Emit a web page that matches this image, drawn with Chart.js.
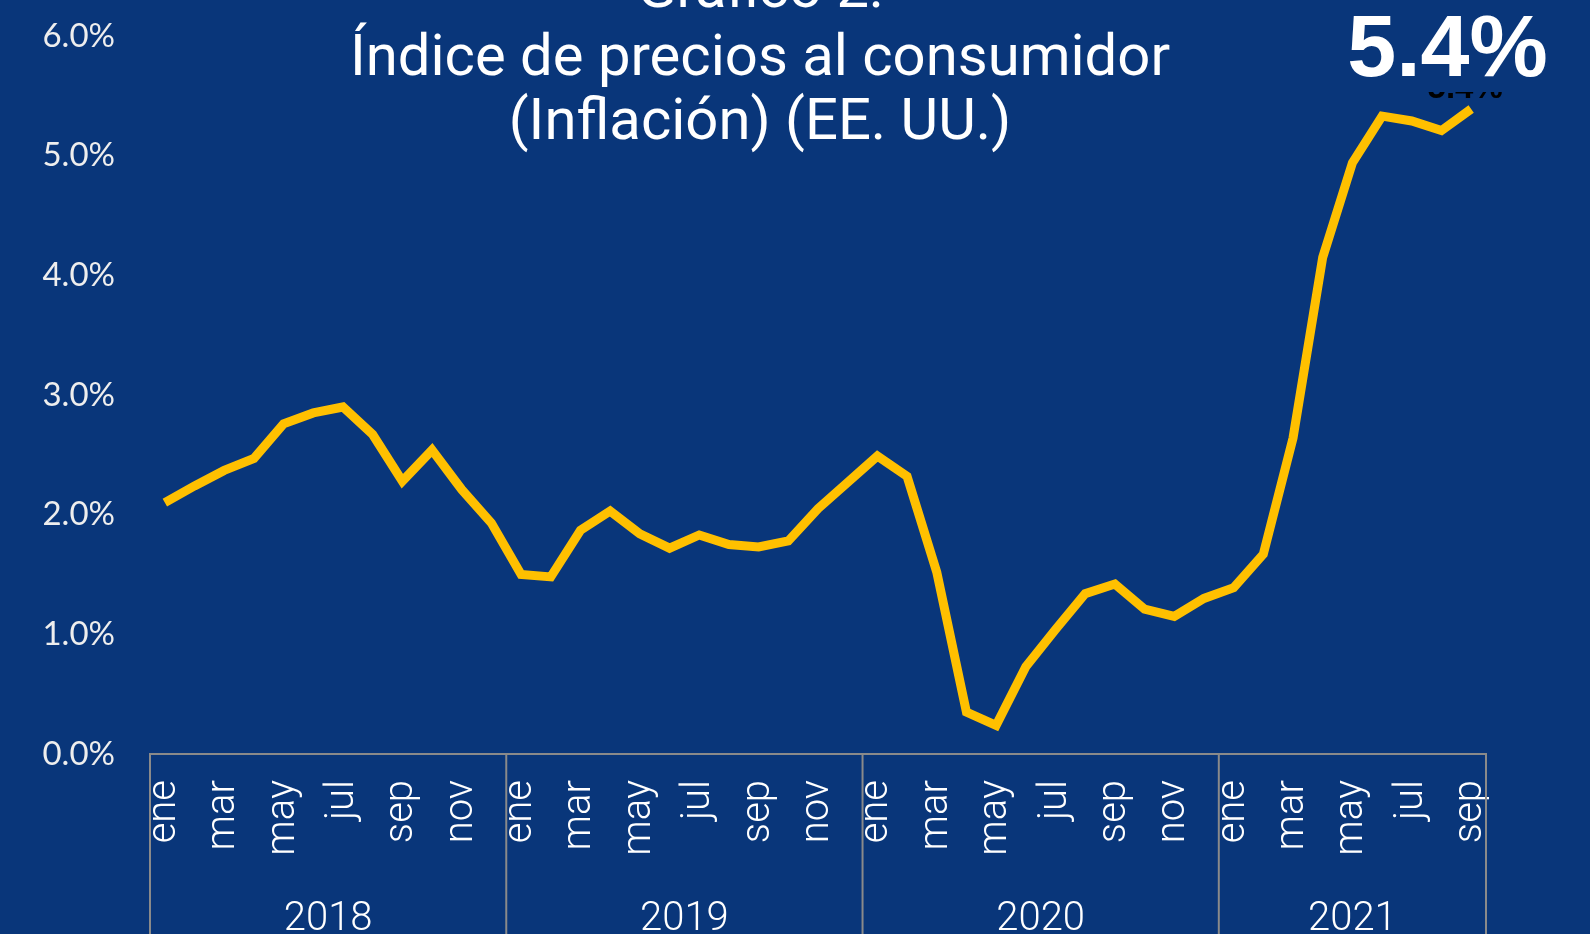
<!DOCTYPE html>
<html>
<head>
<meta charset="utf-8">
<script src="https://cdn.jsdelivr.net/npm/chart.js@4/dist/chart.umd.min.js"></script>
<style>
  body { margin: 0; background: #09367a; overflow: hidden; }
  #wrap { position: relative; width: 1590px; height: 934px; }
  #cpiChart { display: block; }
  .title-line {
    position: absolute; left: 0; width: 1520px; text-align: center;
    color: #ffffff; font-family: "Roboto", sans-serif;
    font-size: 58px; line-height: 58px; white-space: nowrap; pointer-events: none;
  }
  #lastValue {
    position: absolute; left: 1330px; top: 0; width: 235px; height: 92px;
    background: #09367a; color: #ffffff; text-align: center;
    font-family: "Liberation Sans", Arial, sans-serif; font-weight: bold;
    font-size: 88px; line-height: 88px; padding-top: 2px; box-sizing: border-box;
    pointer-events: none;
  }
</style>
</head>
<body>
<div id="wrap">
  <canvas id="cpiChart"></canvas>
  <div class="title-line" style="top:-42px">Gráfico 2:</div>
  <div class="title-line" style="top:26px">Índice de precios al consumidor</div>
  <div class="title-line" style="top:90px">(Inflación) (EE. UU.)</div>
  <div id="lastValue">5.4%</div>
</div>
<script>
//Data//
const monthNames = ["ene", "feb", "mar", "abr", "may", "jun", "jul", "ago", "sep", "oct", "nov", "dic"];
const years = ["2018", "2019", "2020", "2021"];
const monthsPerYear = [12, 12, 12, 9];
const inflation = [
  2.10, 2.24, 2.37, 2.47, 2.76, 2.85, 2.90, 2.67, 2.28, 2.54, 2.21, 1.93,
  1.50, 1.48, 1.87, 2.03, 1.84, 1.72, 1.83, 1.75, 1.73, 1.78, 2.05, 2.27,
  2.49, 2.32, 1.52, 0.35, 0.24, 0.73, 1.04, 1.34, 1.42, 1.21, 1.15, 1.30,
  1.39, 1.67, 2.64, 4.15, 4.94, 5.33, 5.29, 5.21, 5.39
];
const yTicks = [0, 1, 2, 3, 4, 5, 6];

const labels = [];
years.forEach((year, i) => {
  for (let m = 0; m < monthsPerYear[i]; m++) labels.push(monthNames[m]);
});

//Plugins//
const yearGroups = {
  id: "yearGroups",
  afterDraw(chart) {
    const { ctx, chartArea, scales } = chart;
    const x = scales.x;
    const step = x.getPixelForValue(1) - x.getPixelForValue(0);
    ctx.save();
    ctx.strokeStyle = "#8a8a8a";
    ctx.lineWidth = 2;
    ctx.fillStyle = "#ffffff";
    ctx.font = "300 40px Roboto";
    ctx.textAlign = "center";
    ctx.textBaseline = "alphabetic";
    let start = 0;
    years.forEach((year, i) => {
      const left = x.getPixelForValue(start) - step / 2;
      const end = start + monthsPerYear[i] - 1;
      const right = x.getPixelForValue(end) + step / 2;
      ctx.beginPath();
      ctx.moveTo(left, chartArea.bottom);
      ctx.lineTo(left, chart.height);
      ctx.stroke();
      if (i === years.length - 1) {
        ctx.beginPath();
        ctx.moveTo(right, chartArea.bottom);
        ctx.lineTo(right, chart.height);
        ctx.stroke();
      }
      ctx.fillText(year, (left + right) / 2, 930);
      start = end + 1;
    });
    ctx.restore();
  }
};

// dark value label, mostly hidden behind the big "5.4%" box
const lastLabel = {
  id: "lastLabel",
  afterDatasetsDraw(chart) {
    const { ctx } = chart;
    const pt = chart.getDatasetMeta(0).data[inflation.length - 1];
    ctx.save();
    ctx.fillStyle = "#000000";
    ctx.font = "bold 33px 'Liberation Sans'";
    ctx.textAlign = "center";
    ctx.textBaseline = "alphabetic";
    ctx.fillText(inflation[inflation.length - 1].toFixed(1) + "%", pt.x - 6, 98);
    ctx.restore();
  }
};

//Chart//
const canvas = document.querySelector("#cpiChart");
canvas.width = 1590;
canvas.height = 934;

const config = {
  type: "line",
  data: {
    labels: labels,
    datasets: [{
      label: "Inflación",
      data: inflation,
      borderColor: "#ffc000",
      borderWidth: 9,
      pointRadius: 0,
      tension: 0,
      fill: false
    }]
  },
  options: {
    responsive: false,
    animation: false,
    layout: { padding: { top: 36, right: 104, left: 0, bottom: 0 } },
    plugins: { legend: { display: false }, tooltip: { enabled: false } },
    scales: {
      x: {
        type: "category",
        offset: true,
        grid: { display: false, drawTicks: false },
        border: { display: true, color: "#8a8a8a", width: 2 },
        afterFit: (scale) => {
          scale.height = 180;
          scale.paddingLeft = 0;
          scale.paddingRight = 0;
        },
        ticks: {
          autoSkip: false,
          minRotation: 90,
          maxRotation: 90,
          padding: 26,
          color: "#ffffff",
          font: { family: "Roboto", size: 40, weight: 300 },
          callback: (value, index) => (index % 2 === 0 ? labels[index] : "")
        }
      },
      y: {
        min: 0,
        max: 6,
        grid: { display: false, drawTicks: false },
        border: { display: false },
        afterFit: (scale) => {
          scale.width = 150;
          scale.paddingTop = 0;
          scale.paddingBottom = 0;
        },
        afterBuildTicks: (scale) => { scale.ticks = yTicks.map((v) => ({ value: v })); },
        ticks: {
          padding: 35,
          color: "#eeeeee",
          font: { family: "Lato", size: 33 },
          callback: (value) => value.toFixed(1) + "%"
        }
      }
    }
  },
  plugins: [yearGroups, lastLabel]
};

const cpiChart = new Chart(canvas.getContext("2d"), config);
</script>
</body>
</html>
